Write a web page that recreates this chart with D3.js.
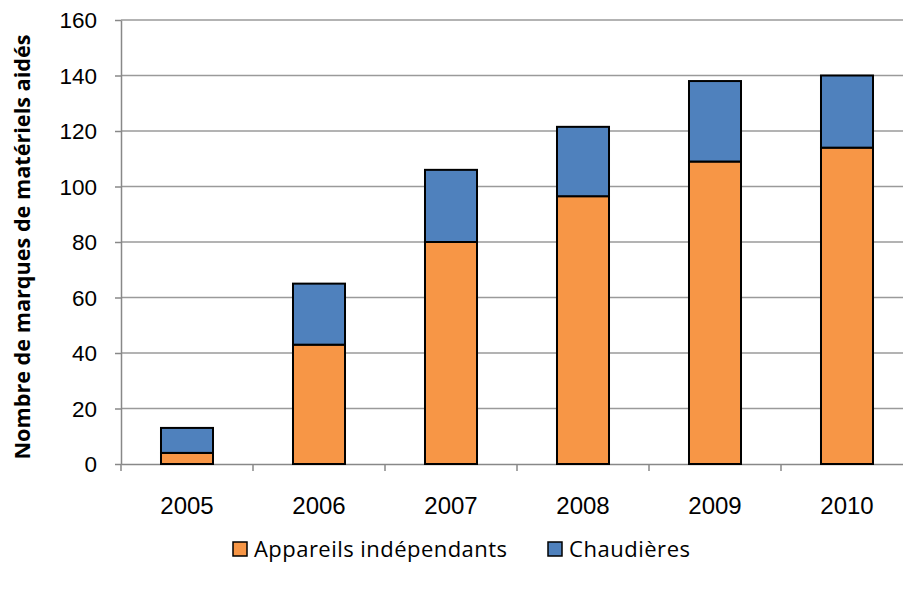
<!DOCTYPE html>
<html>
<head>
<meta charset="utf-8">
<script src="https://cdn.jsdelivr.net/npm/d3@7"></script>
<style>
body{margin:0;background:#fff;}
svg{font-family:"Open Sans",Lato,sans-serif;}
</style>
</head>
<body>
<svg id="svg" width="903" height="589"></svg>
<script>
var years=['2005','2006','2007','2008','2009','2010'];
var appareils=[4,43,80,96.5,109,114];
var chaudieres=[9,22,26,25,29,26];
var yticks=[0,20,40,60,80,100,120,140,160];
var seriesNames=['Appareils indépendants','Chaudières'];

var colors=['#F79646','#4F81BD'];

var svg=d3.select("#svg");

// plot area runs a little past the right edge, like the original
var padding={top:20,left:121};
var chartarea={width:792,height:444};

var data=years.map(function(y,i){
	return {year:y,app:appareils[i],chau:chaudieres[i]};
});

var yscale=d3.scaleLinear().domain([0,160]).range([chartarea.height,0]);
var xscale=d3.scaleBand().domain(years).range([0,chartarea.width]).paddingInner(0.606).paddingOuter(0.303);
var xcat=d3.scaleBand().domain(years).range([0,chartarea.width]);

var g=svg.append("g").attr("transform","translate("+padding.left+","+padding.top+")");

// gridlines
g.append("g").selectAll("line").data(yticks.slice(1)).enter()
.append("line")
.attr("x1",0).attr("x2",chartarea.width)
.attr("y1",function(d){return yscale(d);})
.attr("y2",function(d){return yscale(d);})
.attr("stroke","#9a9a9a").attr("stroke-width",1.5);

// y axis
var yaxis=g.append("g").call(d3.axisLeft(yscale).tickValues(yticks).tickSize(6).tickSizeOuter(0));
yaxis.select(".domain").attr("stroke","#888").attr("stroke-width",1.5);
yaxis.selectAll(".tick line").attr("stroke","#888").attr("stroke-width",1.5);
yaxis.selectAll("text").attr("font-size","22.5px").attr("fill","#000").attr("x",-24).attr("dy","0.35em");

// x axis
var xaxis=g.append("g").attr("transform","translate(0,"+chartarea.height+")")
.call(d3.axisBottom(xcat).tickSize(0).tickSizeOuter(0));
xaxis.select(".domain").attr("stroke","#888").attr("stroke-width",1.5);
xaxis.selectAll("text").attr("font-size","24px").attr("fill","#000").attr("y",42).attr("dy","0.35em");
xaxis.selectAll(".sep").data(years.concat(['end'])).enter()
.append("line").attr("class","sep")
.attr("x1",function(d,i){return i*xcat.bandwidth();})
.attr("x2",function(d,i){return i*xcat.bandwidth();})
.attr("y1",0).attr("y2",7)
.attr("stroke","#888").attr("stroke-width",1.5);

// bars
var bars=g.append("g");
bars.selectAll(".app").data(data).enter().append("rect")
.attr("x",function(d){return xscale(d.year);})
.attr("width",xscale.bandwidth())
.attr("y",function(d){return yscale(d.app);})
.attr("height",function(d){return chartarea.height-yscale(d.app);})
.attr("fill",colors[0]).attr("stroke","#000").attr("stroke-width",2);
bars.selectAll(".chau").data(data).enter().append("rect")
.attr("x",function(d){return xscale(d.year);})
.attr("width",xscale.bandwidth())
.attr("y",function(d){return yscale(d.app+d.chau);})
.attr("height",function(d){return yscale(d.app)-yscale(d.app+d.chau);})
.attr("fill",colors[1]).attr("stroke","#000").attr("stroke-width",2);

// y title
svg.append("text")
.attr("transform","translate(30,247) rotate(-90)")
.attr("text-anchor","middle")
.attr("font-size","21px").attr("font-weight","bold")
.attr("textLength",425).attr("lengthAdjust","spacingAndGlyphs")
.text("Nombre de marques de matériels aidés");

// legend
var legx=[233,548];
var legw=[253,121];
var leg=svg.append("g").selectAll("g").data(seriesNames).enter().append("g")
.attr("transform",function(d,i){return "translate("+legx[i]+",542)";});
leg.append("rect").attr("width",14).attr("height",14)
.attr("fill",function(d,i){return colors[i];}).attr("stroke","#000").attr("stroke-width",1.5);
leg.append("text").attr("x",21).attr("y",7).attr("dy","0.35em")
.attr("font-size","22px")
.attr("textLength",function(d,i){return legw[i];}).attr("lengthAdjust","spacing")
.text(function(d){return d;});
</script>
</body>
</html>
